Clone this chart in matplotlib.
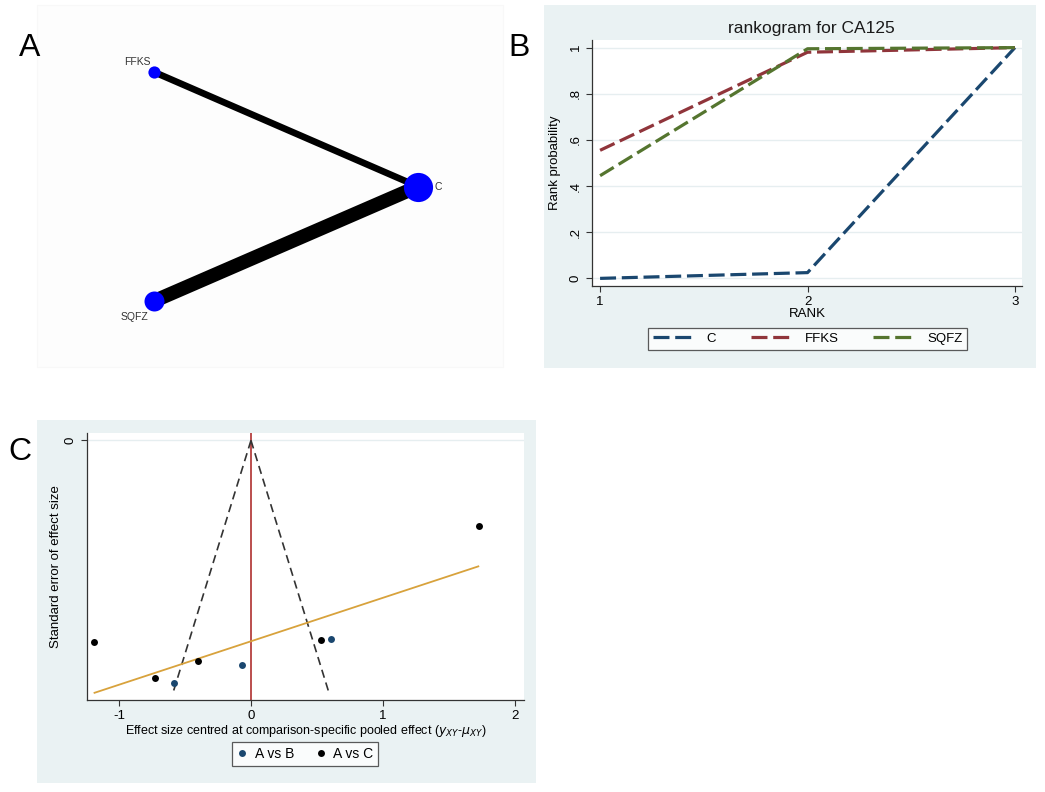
import matplotlib
matplotlib.use("Agg")
import matplotlib.pyplot as plt
import numpy as np
from matplotlib.patches import Rectangle
from matplotlib.lines import Line2D

W, H = 1045, 792
plt.rcParams['font.family'] = ['Liberation Sans', 'DejaVu Sans']

# ---------------- data ----------------
# Panel A: network
treatments = ["C", "FFKS", "SQFZ"]
node_angles_deg = [0, 120, 240]
node_sizes = [21.0, 8.8, 14.4]          # marker diameter (pt)
edge_pairs = [("FFKS", "C"), ("SQFZ", "C")]
edge_widths = [4.8, 10.0]

# Panel B: rankogram
ranks = [1, 2, 3]
prob_C = [0.0, 0.025, 1.0]
prob_FFKS = [0.555, 0.98, 1.0]
prob_SQFZ = [0.445, 0.995, 1.0]
b_yticks = [0, 0.2, 0.4, 0.6, 0.8, 1.0]
b_yticklabels = ["0", ".2", ".4", ".6", ".8", "1"]

# Panel C: comparison-adjusted funnel plot
avb_x = [-0.584, -0.07, 0.608]
avb_se = [0.2902, 0.2679, 0.2369]
avc_x = [-1.189, -0.725, -0.40, 0.533, 1.727]
avc_se = [0.2413, 0.2842, 0.2635, 0.2389, 0.1024]
funnel_se_max = 0.3004
egger_x = [-1.185, 1.722]
egger_se = [0.3014, 0.1504]
c_xticks = [-1, 0, 1, 2]

# ---------------- helpers ----------------
def rect(x0, y0, x1, y1):
    return [x0 / W, 1 - y1 / H, (x1 - x0) / W, (y1 - y0) / H]

def fx(x):
    return x / W

def fy(y):
    return 1 - y / H

fig = plt.figure(figsize=(W / 100, H / 100), dpi=100)
fig.patch.set_facecolor("white")

STATA_BG = "#eaf2f3"
NAVY = "#1a476f"
MAROON = "#90353b"
GREEN = "#55752f"
GRID = "#e6eef0"
AXC = "#333333"

# panel backgrounds
fig.add_artist(Rectangle((fx(37), fy(367)), (503 - 37) / W, (367 - 5) / H,
                         transform=fig.transFigure, facecolor="#fdfdfd",
                         edgecolor="#f8f8f8", lw=0.8, zorder=0))
fig.add_artist(Rectangle((fx(544), fy(368)), (1036 - 544) / W, (368 - 5) / H,
                         transform=fig.transFigure, facecolor=STATA_BG,
                         edgecolor="none", zorder=0))
fig.add_artist(Rectangle((fx(37), fy(783)), (536 - 37) / W, (783 - 420) / H,
                         transform=fig.transFigure, facecolor=STATA_BG,
                         edgecolor="none", zorder=0))

# panel letters
fig.text(fx(30), fy(48), "A", fontsize=23, ha="center", va="center")
fig.text(fx(519), fy(48), "B", fontsize=23, ha="center", va="center")
fig.text(fx(20), fy(452), "C", fontsize=23, ha="center", va="center")

# ---------------- Panel A ----------------
axA = fig.add_axes(rect(37, 5, 503, 367))
axA.set_facecolor("none")
axA.set_xlim(-1.165, 1.483)
axA.set_ylim(-1.365, 1.373)
axA.axis("off")
ang = np.deg2rad(node_angles_deg)
pos = {t: (np.cos(a), np.sin(a)) for t, a in zip(treatments, ang)}
for (a, b), w in zip(edge_pairs, edge_widths):
    axA.plot([pos[a][0], pos[b][0]], [pos[a][1], pos[b][1]], color="black",
             lw=w, solid_capstyle="butt", zorder=1)
for t, s in zip(treatments, node_sizes):
    axA.plot(pos[t][0], pos[t][1], "o", color="#0000ff", markersize=s,
             markeredgewidth=0, zorder=2)
label_offsets = {"C": (12, 0, "left"), "FFKS": (-12, 7, "center"),
                 "SQFZ": (-14, -11.5, "center")}
for t in treatments:
    dx, dy, ha = label_offsets[t]
    axA.annotate(t, pos[t], xytext=(dx, dy), textcoords="offset points",
                 ha=ha, va="center", fontsize=7.5, color="#333333")

# ---------------- Panel B ----------------
axB = fig.add_axes(rect(592, 40, 1022, 286))
axB.set_facecolor("white")
axB.set_xlim(0.961, 3.034)
axB.set_ylim(-0.033, 1.033)
for yt in b_yticks:
    axB.axhline(yt, color=GRID, lw=1.0, zorder=0)
dash = (5, 1.8)
axB.plot(ranks, prob_C, color=NAVY, lw=2.3, dashes=dash, label="C")
axB.plot(ranks, prob_FFKS, color=MAROON, lw=2.3, dashes=dash, label="FFKS")
axB.plot(ranks, prob_SQFZ, color=GREEN, lw=2.3, dashes=dash, label="SQFZ")
axB.set_xticks(ranks)
axB.set_xticklabels([str(r) for r in ranks])
axB.set_yticks(b_yticks)
axB.set_yticklabels(b_yticklabels, rotation=90, va="center")
for sp in ["top", "right"]:
    axB.spines[sp].set_visible(False)
for sp in ["left", "bottom"]:
    axB.spines[sp].set_color(AXC)
    axB.spines[sp].set_linewidth(0.9)
axB.tick_params(axis="both", direction="out", length=4, width=0.8,
                colors=AXC, labelsize=9.5, labelcolor="black")
axB.tick_params(axis="x", pad=3)
axB.set_xlabel("RANK", fontsize=9.5, labelpad=0)
axB.set_ylabel("Rank probability", fontsize=9.5, labelpad=6)
fig.text(fx(811), fy(28), "rankogram for CA125", fontsize=12.5,
         ha="center", va="center", color="#1a1a1a")
hB, lB = axB.get_legend_handles_labels()
legB = fig.legend(hB, lB, loc="center", bbox_to_anchor=(fx(807.5), fy(339)),
                  ncol=3, fontsize=9.5, frameon=True, fancybox=False,
                  edgecolor=AXC, handlelength=3.1, columnspacing=2.6,
                  handletextpad=1.0, borderpad=0.35)
legB.get_frame().set_linewidth(0.9)
legB.get_frame().set_facecolor("white")

# ---------------- Panel C ----------------
axC = fig.add_axes(rect(87, 433, 524, 700))
axC.set_facecolor("white")
axC.set_xlim(-1.242, 2.068)
axC.set_ylim(0.310, -0.0089)
axC.axhline(0, color=GRID, lw=1.0, zorder=0)
axC.axvline(0, color="#b5403f", lw=1.3, zorder=1)
axC.plot([0, -1.96 * funnel_se_max], [0, funnel_se_max], color="#333333",
         lw=1.2, dashes=(5, 3), zorder=2)
axC.plot([0, 1.96 * funnel_se_max], [0, funnel_se_max], color="#333333",
         lw=1.2, dashes=(5, 3), zorder=2)
axC.plot(egger_x, egger_se, color="#d8a23c", lw=1.3, zorder=2)
axC.plot(avb_x, avb_se, "o", color=NAVY, markersize=5, markeredgewidth=0,
         label="A vs B", zorder=3)
axC.plot(avc_x, avc_se, "o", color="black", markersize=5, markeredgewidth=0,
         label="A vs C", zorder=3)
axC.set_xticks(c_xticks)
axC.set_xticklabels([str(t) for t in c_xticks])
axC.set_yticks([0])
axC.set_yticklabels(["0"], rotation=90, va="center")
for sp in ["top", "right"]:
    axC.spines[sp].set_visible(False)
for sp in ["left", "bottom"]:
    axC.spines[sp].set_color(AXC)
    axC.spines[sp].set_linewidth(0.9)
axC.tick_params(axis="both", direction="out", length=4, width=0.8,
                colors=AXC, labelsize=9.5, labelcolor="black")
axC.tick_params(axis="x", pad=3)
axC.set_xlabel(r"Effect size centred at comparison-specific pooled effect ($y_{XY}$-$\mu_{XY}$)",
               fontsize=9, labelpad=1)
axC.set_ylabel("Standard error of effect size", fontsize=9.5, labelpad=2)
hC, lC = axC.get_legend_handles_labels()
legC = fig.legend(hC, lC, loc="center", bbox_to_anchor=(fx(305), fy(754)),
                  ncol=2, fontsize=10, frameon=True, fancybox=False,
                  edgecolor=AXC, handlelength=0.8, columnspacing=1.5,
                  handletextpad=0.5, borderpad=0.35)
legC.get_frame().set_linewidth(0.9)
legC.get_frame().set_facecolor("white")

fig.savefig("out.png", dpi=100, facecolor="white")
